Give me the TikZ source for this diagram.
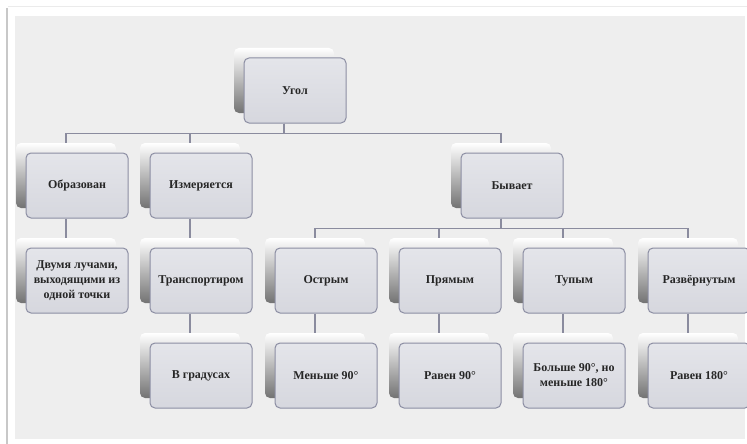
\documentclass[tikz,border=0pt]{standalone}
\usepackage{fontspec}
\setmainfont{Liberation Serif}
\definecolor{bg}{HTML}{EEEEEE}
\definecolor{boxtop}{HTML}{E4E5EA}
\definecolor{boxfill}{HTML}{D6D7DE}
\definecolor{boxline}{HTML}{8C8EA3}
\definecolor{linkc}{HTML}{8A8B9E}
\definecolor{txt}{HTML}{262626}
\definecolor{edge}{HTML}{C8C8C8}
\tikzset{
  card/.style={draw=boxline, line width=1pt, rounded corners=5pt,
    top color=boxtop, bottom color=boxfill, minimum width=102pt,
    minimum height=65pt, align=center, text=txt, inner sep=2pt,
    font=\bfseries\fontsize{12}{15}\selectfont},
  backcard/.style={rounded corners=5pt, top color=white, bottom color=black!55,
    minimum width=100pt, minimum height=65pt, inner sep=0pt},
  link/.style={draw=linkc, line width=1.1pt},
}
\newcommand\mycard[4]{%
  \node[backcard] (#1-b) at (#2-11,#3-10) {};
  \node[card] (#1) at (#2,#3) {#4};
}
\begin{document}
\begin{tikzpicture}[x=1pt,y=-1pt]
\clip (0,0) rectangle (747,444);
\fill[white] (0,0) rectangle (747,444);
\fill[bg] (15,16) rectangle (745,439);
\draw[edge, line width=2pt] (7,8) -- (7,444);
\draw[black!8, line width=1pt] (8,7) -- (747,7);
% row 1
\mycard{ugol}{295}{90.5}{Угол}
% row 2
\mycard{obr}{77}{185.5}{Образован}
\mycard{izm}{201}{185.5}{Измеряется}
\mycard{byv}{512}{185.5}{Бывает}
% row 3
\mycard{dva}{77}{280.5}{Двумя лучами,\\выходящими из\\одной точки}
\mycard{tra}{201}{280.5}{Транспортиром}
\mycard{ost}{326}{280.5}{Острым}
\mycard{pry}{450}{280.5}{Прямым}
\mycard{tup}{574}{280.5}{Тупым}
\mycard{raz}{699}{280.5}{Развёрнутым}
% row 4
\mycard{gra}{201}{375.5}{В градусах}
\mycard{men}{326}{375.5}{Меньше 90°}
\mycard{rav}{450}{375.5}{Равен 90°}
\mycard{bol}{574}{375.5}{Больше 90°, но\\меньше 180°}
\mycard{r18}{699}{375.5}{Равен 180°}
% connectors
\foreach \c in {obr,izm,byv}
  \draw[link] (ugol-b |- ugol.south) -- ++(0,10) -| (\c-b.north);
\foreach \c in {ost,pry,tup,raz}
  \draw[link] (byv-b |- byv.south) -- ++(0,10) -| (\c-b.north);
\foreach \p/\c in {obr/dva,izm/tra,tra/gra,ost/men,pry/rav,tup/bol,raz/r18}
  \draw[link] (\p-b |- \p.south) -- (\c-b.north);
\end{tikzpicture}
\end{document}
